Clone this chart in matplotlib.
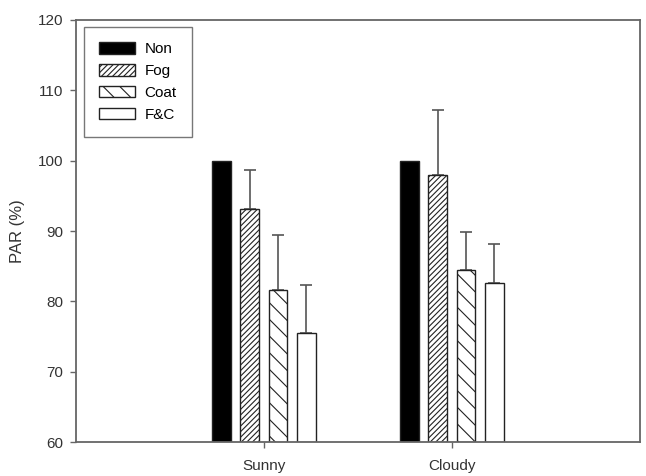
import matplotlib
matplotlib.use('Agg')
import matplotlib.pyplot as plt
import numpy as np

plt.rcParams['font.family'] = ['Liberation Sans', 'DejaVu Sans']
plt.rcParams['hatch.linewidth'] = 0.8

categories = ["Sunny", "Cloudy"]
treatments = ["Non", "Fog", "Coat", "F&C"]
means = {
    "Non": [100.0, 100.0],
    "Fog": [93.1, 98.0],
    "Coat": [81.6, 84.5],
    "F&C": [75.5, 82.6],
}
errors = {
    "Non": [0.0, 0.0],
    "Fog": [5.6, 9.1],
    "Coat": [7.9, 5.3],
    "F&C": [6.9, 5.6],
}

colors = {"Non": "black", "Fog": "white", "Coat": "white", "F&C": "white"}
hatches = {"Non": None, "Fog": "//////", "Coat": "\\\\", "F&C": None}

fig = plt.figure(figsize=(6.46, 4.76), dpi=100)
ax = fig.add_axes([0.1176, 0.0704, 0.8731, 0.8886])

x = np.arange(1, len(categories) + 1)
width = 0.1
offsets = [-0.225, -0.075, 0.075, 0.225]

for i, t in enumerate(treatments):
    ax.bar(x + offsets[i], np.array(means[t]) - 60, width, bottom=60,
           color=colors[t], edgecolor='#222222', hatch=hatches[t],
           linewidth=1.0, label=t, zorder=2)
    if t != "Non":
        ax.errorbar(x + offsets[i], means[t],
                    yerr=[np.zeros(len(categories)), errors[t]],
                    fmt='none', ecolor='#555555', elinewidth=1.2,
                    capsize=4, capthick=1.2, zorder=1)

ax.set_xlim(0, 3)
ax.set_ylim(60, 120)
ax.set_yticks(np.arange(60, 121, 10))
ax.set_xticks(x)
ax.set_xticklabels(categories)
ax.set_ylabel('PAR (%)', fontsize=12, color='#333333', labelpad=9)

for s in ax.spines.values():
    s.set_color('#666666')
    s.set_linewidth(1.3)
ax.tick_params(axis='both', direction='out', length=4, width=1.0,
               color='#666666', labelsize=11, labelcolor='#333333')
ax.tick_params(axis='y', pad=5)
ax.tick_params(axis='x', pad=8)

leg = ax.legend(loc='upper left', bbox_to_anchor=(0.0, 1.0),
                fancybox=False, edgecolor='#555555', fontsize=11,
                handlelength=2.35, handleheight=0.78, borderpad=1.0,
                labelspacing=0.5, handletextpad=0.65,
                borderaxespad=0.5)
leg.get_frame().set_linewidth(1.0)

fig.savefig('out.png', dpi=100)
